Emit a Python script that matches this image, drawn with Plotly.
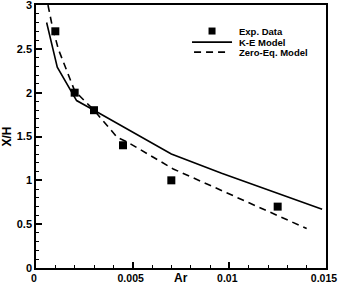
import plotly.graph_objects as go

exp_x = [0.001, 0.002, 0.003, 0.0045, 0.007, 0.0125]
exp_y = [2.7, 2.0, 1.8, 1.4, 1.0, 0.7]

ke_x = [0.00055, 0.0011, 0.0021, 0.003, 0.007, 0.0096, 0.0148]
ke_y = [2.80, 2.29, 1.91, 1.80, 1.30, 1.08, 0.67]

ze_x = [0.00062, 0.00083, 0.00115, 0.002, 0.003, 0.0042, 0.0047, 0.0071, 0.0140]
ze_y = [3.0, 2.77, 2.5, 2.02, 1.80, 1.49, 1.44, 1.13, 0.45]

legend_labels = ["Exp. Data", "K-E Model", "Zero-Eq. Model"]

font_fam = "Liberation Sans, Arial, sans-serif"
DASH = "7px,5px"

fig = go.Figure()
fig.add_trace(go.Scatter(x=exp_x, y=exp_y, mode="markers", name=legend_labels[0],
                         marker=dict(symbol="square", size=8, color="black")))
fig.add_trace(go.Scatter(x=ke_x, y=ke_y, mode="lines", name=legend_labels[1],
                         line=dict(color="black", width=1.6)))
fig.add_trace(go.Scatter(x=ze_x, y=ze_y, mode="lines", name=legend_labels[2],
                         line=dict(color="black", width=1.6, dash=DASH)))

axis_common = dict(
    showgrid=False, zeroline=False, showline=True, linecolor="black", linewidth=1.5,
    mirror=True, ticks="inside", tickcolor="black", tickwidth=1.5, ticklen=6,
    automargin=False, ticklabeloverflow="allow",
)

fig.update_xaxes(range=[0, 0.015], tickvals=[0, 0.005, 0.01, 0.015],
                 ticktext=["0", "0.005", "0.01", "0.015"], ticklabelshift=-2,
                 tickfont=dict(family=font_fam, size=10.5, color="black", weight="bold"),
                 minor=dict(ticks="inside", ticklen=3, tickcolor="black", dtick=0.001, tickwidth=1),
                 **axis_common)
fig.update_yaxes(range=[0, 3], tickvals=[0, 0.5, 1, 1.5, 2, 2.5, 3],
                 ticktext=["0", "0.5", "1", "1.5", "2", "2.5", "3"],
                 tickfont=dict(family=font_fam, size=11, color="black", weight="bold"),
                 minor=dict(ticks="inside", ticklen=3, tickcolor="black", dtick=0.1, tickwidth=1),
                 title=dict(text="X/H", font=dict(family=font_fam, size=12, color="black", weight="bold"),
                            standoff=3),
                 **axis_common)

# x-axis title
fig.add_annotation(x=0.5, y=-0.072, xref="paper", yref="paper", text="Ar",
                   showarrow=False, xanchor="center", yanchor="bottom",
                   font=dict(family=font_fam, size=12, color="black", weight="bold"))

# compact legend drawn in paper coordinates
lx_text = 0.693
rows_y = [0.901, 0.859, 0.821]
for lab, ry in zip(legend_labels, rows_y):
    fig.add_annotation(x=lx_text, y=ry, xref="paper", yref="paper", text=lab,
                       showarrow=False, xanchor="left", yanchor="middle",
                       font=dict(family=font_fam, size=9.5, color="black", weight="bold"))
fig.add_shape(type="rect", xref="paper", yref="paper", xsizemode="pixel", ysizemode="pixel",
              xanchor=0.607, yanchor=rows_y[0], x0=-3.5, x1=3.5, y0=-3.5, y1=3.5,
              fillcolor="black", line=dict(width=0))
fig.add_shape(type="line", xref="paper", yref="paper", x0=0.538, x1=0.676,
              y0=rows_y[1], y1=rows_y[1], line=dict(color="black", width=1.6))
fig.add_shape(type="line", xref="paper", yref="paper", x0=0.545, x1=0.660,
              y0=rows_y[2], y1=rows_y[2], line=dict(color="black", width=1.6, dash=DASH))

fig.update_layout(
    width=338, height=287,
    margin=dict(l=36, r=12, t=5, b=19),
    paper_bgcolor="white", plot_bgcolor="white",
    showlegend=False,
)

fig.write_html("out.html")
